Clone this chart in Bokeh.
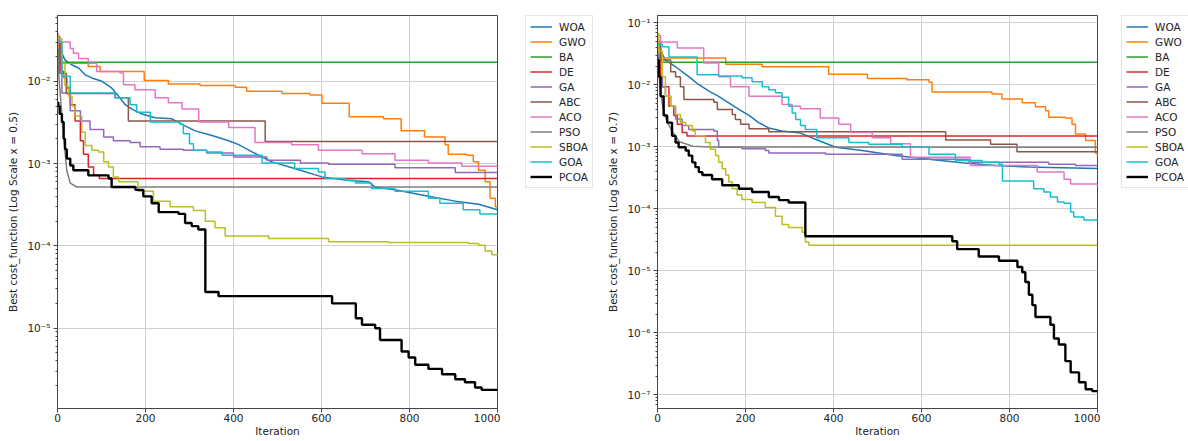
from bokeh.plotting import figure
from bokeh.models import Legend, LegendItem, FixedTicker, CustomJSTickFormatter, Range1d
from bokeh.layouts import row
from bokeh.embed import file_html
from bokeh.resources import INLINE

ALGOS = ["WOA", "GWO", "BA", "DE", "GA", "ABC", "ACO", "PSO", "SBOA", "GOA", "PCOA"]
COLORS = ["#1f77b4", "#ff7f0e", "#2ca02c", "#d62728", "#9467bd", "#8c564b",
          "#e377c2", "#7f7f7f", "#bcbd22", "#17becf", "#000000"]
X_TICKS = [0, 200, 400, 600, 800, 1000]
Y_TICKS_05 = [1e-5, 1e-4, 1e-3, 1e-2]
Y_TICKS_07 = [1e-7, 1e-6, 1e-5, 1e-4, 1e-3, 1e-2, 1e-1]
X_LABEL = "Iteration"
Y_LABEL_05 = "Best cost_function (Log Scale x = 0.5)"
Y_LABEL_07 = "Best cost_function (Log Scale x = 0.7)"

# ---------------- x = 0.5 ----------------
WOA_05_it = [0, 2, 10, 17, 33, 48, 63, 78, 101, 123, 139, 154, 169, 192, 222, 260, 283, 313, 351, 389,
             412, 441, 487, 539, 601, 654, 707, 722, 767, 843, 904, 957, 1000]
WOA_05_val = [0.033, 0.0316, 0.0219, 0.0182, 0.0158, 0.0145, 0.012, 0.011, 0.01, 0.0083, 0.0066, 0.0052,
              0.0046, 0.004, 0.0036, 0.0035, 0.003, 0.0025, 0.0022, 0.0019, 0.0017, 0.0014, 0.00105,
              0.00087, 0.00069, 0.00063, 0.0006, 0.00052, 0.00048, 0.0004, 0.00035, 0.00032, 0.000275]
GWO_05_it = [0, 3, 70, 97, 197, 252, 324, 404, 430, 510, 574, 601, 663, 741, 781, 834, 881, 888, 930,
             945, 957, 972, 983, 995, 1000]
GWO_05_val = [0.03, 0.0166, 0.0151, 0.0132, 0.0102, 0.0093, 0.0089, 0.0085, 0.0076, 0.0071, 0.0068,
              0.0054, 0.0037, 0.0035, 0.0025, 0.0021, 0.0017, 0.0013, 0.00126, 0.00105, 0.00083,
              0.0006, 0.00038, 0.0003, 0.00029]
BA_05_it = [0, 3, 1000]
BA_05_val = [0.025, 0.0171, 0.0171]
DE_05_it = [0, 8, 15, 21, 29, 40, 52, 59, 70, 82, 95, 1000]
DE_05_val = [0.03, 0.0132, 0.011, 0.0083, 0.0052, 0.0033, 0.0019, 0.0013, 0.00091, 0.00072, 0.00066, 0.00066]
GA_05_it = [0, 10, 29, 52, 74, 105, 127, 165, 188, 233, 286, 339, 400, 476, 552, 616, 767, 904, 1000]
GA_05_val = [0.025, 0.0072, 0.0044, 0.0033, 0.0026, 0.0021, 0.0019, 0.0018, 0.0016, 0.0015, 0.00145,
             0.00135, 0.0012, 0.0011, 0.00102, 0.00098, 0.00089, 0.00078, 0.00076]
ABC_05_it = [0, 5, 20, 131, 161, 472, 1000]
ABC_05_val = [0.035, 0.0125, 0.0071, 0.0063, 0.0033, 0.00186, 0.00186]
ACO_05_it = [0, 2, 29, 36, 48, 70, 89, 142, 150, 176, 222, 252, 283, 321, 389, 449, 532, 593, 692,
             767, 843, 919, 1000]
ACO_05_val = [0.038, 0.03, 0.025, 0.0219, 0.019, 0.0166, 0.0132, 0.0126, 0.0091, 0.0079, 0.0063,
              0.0055, 0.0046, 0.0032, 0.00275, 0.0018, 0.0017, 0.00145, 0.00132, 0.0011, 0.00102,
              0.00093, 0.00089]
PSO_05_it = [0, 4, 14, 21, 29, 44, 1000]
PSO_05_val = [0.025, 0.01, 0.0021, 0.00083, 0.00058, 0.00052, 0.00052]
SBOA_05_it = [0, 2, 10, 17, 25, 33, 40, 55, 63, 78, 93, 105, 116, 127, 139, 183, 218, 256, 309, 336,
              358, 381, 480, 616, 752, 934, 957, 972, 987, 1000]
SBOA_05_val = [0.036, 0.033, 0.0166, 0.0087, 0.0066, 0.005, 0.0038, 0.0024, 0.00166, 0.00145, 0.00138,
               0.00105, 0.00091, 0.00069, 0.0006, 0.00046, 0.00035, 0.0003, 0.00027, 0.0002, 0.000166,
               0.000132, 0.000123, 0.000112, 0.00011, 0.000107, 0.000102, 0.000087, 0.000078, 0.000074]
GOA_05_it = [0, 10, 29, 131, 165, 180, 211, 279, 286, 300, 309, 339, 374, 465, 539, 593, 608, 654,
             677, 714, 767, 843, 869, 922, 960, 1000]
GOA_05_val = [0.03, 0.0115, 0.0072, 0.0063, 0.0052, 0.0042, 0.0032, 0.003, 0.0023, 0.00174, 0.00145,
              0.00138, 0.00126, 0.00102, 0.00087, 0.00079, 0.00066, 0.00063, 0.00058, 0.0005, 0.00046,
              0.00038, 0.00033, 0.000275, 0.000245, 0.000234]
PCOA_05_it = [0, 2, 5, 10, 14, 17, 21, 29, 36, 70, 116, 123, 177, 195, 214, 230, 275, 290, 305, 320,
              336, 366, 624, 678, 692, 722, 733, 782, 798, 813, 843, 874, 904, 926, 949, 964, 1000]
PCOA_05_val = [0.0055, 0.005, 0.004, 0.0032, 0.002, 0.0015, 0.00115, 0.00095, 0.00083, 0.00072,
               0.00066, 0.00052, 0.00048, 0.0004, 0.00033, 0.000257, 0.000245, 0.00019, 0.000174,
               0.000158, 2.75e-5, 2.45e-5, 2.0e-5, 1.32e-5, 1.1e-5, 1.0e-5, 7.2e-6, 5.2e-6, 4.4e-6,
               3.6e-6, 3.2e-6, 2.75e-6, 2.4e-6, 2.2e-6, 1.9e-6, 1.78e-6, 1.74e-6]

# ---------------- x = 0.7 ----------------
WOA_07_it = [0, 7, 18, 41, 71, 94, 117, 139, 162, 185, 208, 230, 253, 283, 325, 359, 405, 465, 541,
             617, 692, 768, 844, 920, 1000]
WOA_07_val = [0.055, 0.036, 0.025, 0.0195, 0.0135, 0.01, 0.0079, 0.0065, 0.0051, 0.004, 0.0032,
              0.00245, 0.002, 0.0018, 0.00166, 0.00132, 0.00098, 0.00087, 0.00072, 0.00063, 0.00055,
              0.0005, 0.00047, 0.00046, 0.000447]
GWO_07_it = [0, 3, 155, 238, 389, 477, 567, 617, 624, 760, 783, 829, 859, 882, 889, 927, 942, 950,
             973, 995, 1000]
GWO_07_val = [0.05, 0.027, 0.0214, 0.0195, 0.0148, 0.0126, 0.012, 0.011, 0.0076, 0.0071, 0.0059,
              0.0051, 0.0044, 0.0038, 0.003, 0.0029, 0.0023, 0.0016, 0.00126, 0.00079, 0.00068]
BA_07_it = [0, 3, 1000]
BA_07_val = [0.03, 0.023, 0.023]
DE_07_it = [0, 7, 11, 26, 37, 45, 56, 67, 1000]
DE_07_val = [0.04, 0.013, 0.0093, 0.0045, 0.0032, 0.0023, 0.0017, 0.00149, 0.00149]
GA_07_it = [0, 11, 18, 30, 41, 56, 71, 128, 136, 139, 192, 245, 253, 382, 556, 708, 889, 950, 1000]
GA_07_val = [0.03, 0.0093, 0.0065, 0.0045, 0.0028, 0.0022, 0.0019, 0.0018, 0.00126, 0.00098, 0.00093,
             0.00087, 0.00079, 0.00076, 0.00063, 0.00056, 0.00052, 0.0005, 0.0005]
ABC_07_it = [0, 7, 30, 41, 52, 60, 128, 136, 170, 177, 189, 208, 253, 655, 757, 817, 1000]
ABC_07_val = [0.05, 0.025, 0.0162, 0.0135, 0.0093, 0.0058, 0.0052, 0.004, 0.0033, 0.00275, 0.0023,
              0.00195, 0.00174, 0.00129, 0.0011, 0.00083, 0.00083]
ACO_07_it = [0, 7, 45, 105, 139, 166, 208, 283, 306, 325, 370, 412, 439, 488, 530, 575, 711, 863,
             924, 939, 1000]
ACO_07_val = [0.063, 0.049, 0.039, 0.0224, 0.0135, 0.0093, 0.0065, 0.0048, 0.0045, 0.0041, 0.0029,
              0.0023, 0.0017, 0.0014, 0.00112, 0.00068, 0.0005, 0.00039, 0.0003, 0.00025, 0.00023]
PSO_07_it = [0, 3, 7, 11, 15, 22, 35, 50, 80, 120, 1000]
PSO_07_val = [0.04, 0.015, 0.008, 0.005, 0.0035, 0.0025, 0.0017, 0.0012, 0.00102, 0.00099, 0.00098]
SBOA_07_it = [0, 3, 11, 18, 30, 41, 52, 64, 79, 86, 109, 120, 132, 139, 147, 155, 162, 170, 181, 192,
              215, 245, 268, 283, 298, 329, 336, 344, 1000]
SBOA_07_val = [0.067, 0.035, 0.0135, 0.0065, 0.0045, 0.0033, 0.00245, 0.0022, 0.0018, 0.0015, 0.00117,
               0.00091, 0.00072, 0.00056, 0.00044, 0.00035, 0.00027, 0.00021, 0.000166, 0.000141,
               0.000126, 0.000105, 7.6e-5, 5.6e-5, 5.0e-5, 4.2e-5, 2.9e-5, 2.57e-5, 2.45e-5]
GOA_07_it = [0, 11, 26, 90, 139, 192, 215, 238, 253, 268, 283, 298, 306, 314, 325, 336, 362, 435, 480,
             556, 617, 677, 738, 776, 784, 855, 878, 893, 909, 924, 939, 946, 969, 1000]
GOA_07_val = [0.045, 0.041, 0.028, 0.0145, 0.0138, 0.0129, 0.0112, 0.0093, 0.0083, 0.0074, 0.0063,
              0.0045, 0.0035, 0.00275, 0.0022, 0.0019, 0.0014, 0.00117, 0.0011, 0.00098, 0.00076, 0.0006,
              0.00056, 0.00052, 0.00028, 0.00021, 0.000186, 0.000155, 0.000129, 0.000123, 0.000089,
              0.000074, 0.000066, 0.000062]
PCOA_07_it = [0, 3, 7, 14, 22, 33, 41, 48, 64, 71, 79, 86, 94, 102, 124, 147, 185, 215, 253, 276, 298,
              336, 670, 681, 730, 776, 818, 829, 836, 844, 852, 859, 893, 901, 912, 927, 939, 958, 973,
              988, 1000]
PCOA_07_val = [0.025, 0.0135, 0.0065, 0.0032, 0.00245, 0.0015, 0.00117, 0.00098, 0.00087, 0.00072,
               0.00056, 0.00047, 0.00039, 0.00035, 0.0003, 0.00024, 0.00021, 0.000186, 0.000155,
               0.000138, 0.000126, 3.6e-5, 3.0e-5, 2.24e-5, 1.7e-5, 1.45e-5, 1.15e-5, 9.5e-6, 6.6e-6,
               4.1e-6, 2.8e-6, 1.8e-6, 1.35e-6, 8.1e-7, 6.5e-7, 3.5e-7, 2.3e-7, 1.6e-7, 1.23e-7,
               1.15e-7, 1.12e-7]

SERIES_05 = {
    "WOA": (WOA_05_it, WOA_05_val), "GWO": (GWO_05_it, GWO_05_val), "BA": (BA_05_it, BA_05_val),
    "DE": (DE_05_it, DE_05_val), "GA": (GA_05_it, GA_05_val), "ABC": (ABC_05_it, ABC_05_val),
    "ACO": (ACO_05_it, ACO_05_val), "PSO": (PSO_05_it, PSO_05_val), "SBOA": (SBOA_05_it, SBOA_05_val),
    "GOA": (GOA_05_it, GOA_05_val), "PCOA": (PCOA_05_it, PCOA_05_val),
}
SERIES_07 = {
    "WOA": (WOA_07_it, WOA_07_val), "GWO": (GWO_07_it, GWO_07_val), "BA": (BA_07_it, BA_07_val),
    "DE": (DE_07_it, DE_07_val), "GA": (GA_07_it, GA_07_val), "ABC": (ABC_07_it, ABC_07_val),
    "ACO": (ACO_07_it, ACO_07_val), "PSO": (PSO_07_it, PSO_07_val), "SBOA": (SBOA_07_it, SBOA_07_val),
    "GOA": (GOA_07_it, GOA_07_val), "PCOA": (PCOA_07_it, PCOA_07_val),
}
SMOOTH = {"WOA", "PSO"}

FONT = "DejaVu Sans"
FS = "10.5px"
H = 441

SUP_JS = r"""
const e = Math.round(Math.log10(tick));
const m = {"-":"\u207b","0":"\u2070","1":"\u00b9","2":"\u00b2","3":"\u00b3","4":"\u2074",
           "5":"\u2075","6":"\u2076","7":"\u2077","8":"\u2078","9":"\u2079"};
return "10" + String(e).split("").map(c => m[c]).join("");
"""


def make_fig(series, ylabel, yr, yticks):
    p = figure(width=500, height=H, x_range=Range1d(0, 1000), y_range=Range1d(*yr),
               y_axis_type="log", output_backend="svg", toolbar_location=None,
               min_border_left=57, min_border_right=3, min_border_top=10, min_border_bottom=33,
               background_fill_color="white", border_fill_color="white")
    p.outline_line_color = "#444444"
    p.outline_line_width = 1
    for name, color in zip(ALGOS, COLORS):
        xs, ys = series[name]
        lw = 2.4 if name == "PCOA" else 1.5
        if name in SMOOTH:
            p.line(xs, ys, line_color=color, line_width=lw)
        else:
            p.step(xs, ys, mode="after", line_color=color, line_width=lw)

    minors = [m * 10.0 ** k for k in range(-8, 0) for m in range(2, 10)]
    p.yaxis.ticker = FixedTicker(ticks=yticks, minor_ticks=minors)
    p.yaxis.formatter = CustomJSTickFormatter(code=SUP_JS)
    p.xaxis.ticker = FixedTicker(ticks=X_TICKS, minor_ticks=[])
    for ax in (p.xaxis, p.yaxis):
        ax.axis_line_color = "#444444"
        ax.major_tick_line_color = "#444444"
        ax.minor_tick_line_color = "#444444"
        ax.major_tick_out = 4
        ax.major_tick_in = 0
        ax.minor_tick_out = 2
        ax.minor_tick_in = 0
        ax.major_label_text_font = FONT
        ax.major_label_text_font_size = FS
        ax.major_label_text_color = "#222222"
        ax.axis_label_text_font = FONT
        ax.axis_label_text_font_size = FS
        ax.axis_label_text_font_style = "normal"
        ax.axis_label_text_color = "#222222"
    p.xaxis.axis_label = X_LABEL
    p.yaxis.axis_label = ylabel
    p.xaxis.major_label_standoff = 1
    p.xaxis.axis_label_standoff = 0
    p.yaxis.major_label_standoff = 3
    p.yaxis.axis_label_standoff = 5
    p.xgrid.grid_line_color = "#d0d0d0"
    p.ygrid.grid_line_color = "#d0d0d0"
    p.xgrid.grid_line_width = 1
    p.ygrid.grid_line_width = 1
    return p


def make_legend_fig(series, width, left):
    # legend-only panel: the real series are drawn again but outside of the visible x range
    q = figure(width=width, height=H, x_range=Range1d(-20, -10), y_range=Range1d(0, 1),
               x_axis_type=None, y_axis_type=None, output_backend="svg", toolbar_location=None,
               min_border_left=left, min_border_top=15, min_border_right=0, min_border_bottom=0,
               background_fill_color="white", border_fill_color="white")
    q.outline_line_color = None
    q.xgrid.visible = False
    q.ygrid.visible = False
    items = []
    for name, color in zip(ALGOS, COLORS):
        xs, ys = series[name]
        lw = 2.4 if name == "PCOA" else 1.5
        r = q.line(xs, ys, line_color=color, line_width=lw)
        items.append(LegendItem(label=name, renderers=[r]))
    leg = Legend(items=items, location="top_left", margin=0, padding=4, spacing=2,
                 glyph_width=22, glyph_height=13, label_height=13, label_standoff=7,
                 label_text_font=FONT, label_text_font_size=FS, label_text_color="#222222",
                 border_line_color="#cccccc", border_line_width=1,
                 background_fill_color="white", background_fill_alpha=1.0)
    q.add_layout(leg)
    return q


p1 = make_fig(SERIES_05, Y_LABEL_05, (10 ** -5.976, 10 ** -1.2), Y_TICKS_05)
l1 = make_legend_fig(SERIES_05, 100, 25)
p2 = make_fig(SERIES_07, Y_LABEL_07, (10 ** -7.22, 10 ** -0.884), Y_TICKS_07)
l2 = make_legend_fig(SERIES_07, 88, 21)

layout = row(p1, l1, p2, l2)
open("out.html", "w").write(file_html(layout, INLINE))
